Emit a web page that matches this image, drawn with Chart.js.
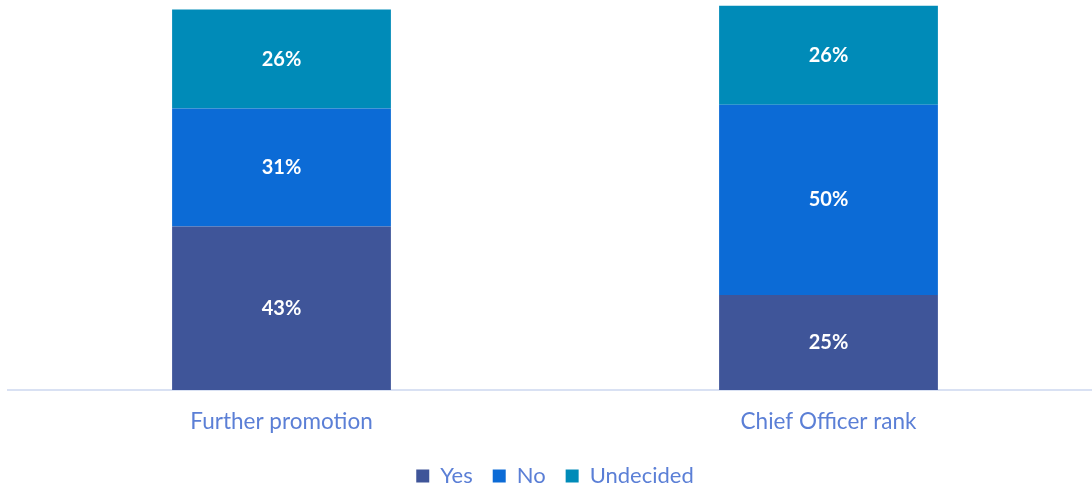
<!DOCTYPE html>
<html>
<head>
<meta charset="utf-8">
<script src="https://cdn.jsdelivr.net/npm/chart.js@4.4.1/dist/chart.umd.min.js"></script>
<style>
  html, body { margin: 0; padding: 0; background: #ffffff; overflow: hidden; }
  #wrap { position: relative; width: 1092px; height: 489px; overflow: hidden; }
  canvas { display: block; }
</style>
</head>
<body>
<div id="wrap"><canvas id="chart" width="1102" height="497"></canvas></div>
<script>
// Survey answers, percent of respondents
const categories = ['Further promotion', 'Chief Officer rank'];
const seriesNames = ['Yes', 'No', 'Undecided'];
const yesValues = [43, 25];
const noValues = [31, 50];
const undecidedValues = [26, 26];

const seriesColors = ['#3F5599', '#0C6BD6', '#008BB8'];
const textColor = '#5B7FD6';
const fontFamily = 'Lato, "Open Sans", sans-serif';

// Writes each segment's percentage in the middle of its bar piece
const segmentLabels = {
  id: 'segmentLabels',
  afterDatasetsDraw(chart) {
    const ctx = chart.ctx;
    ctx.save();
    ctx.fillStyle = '#ffffff';
    ctx.font = 'bold 20px ' + fontFamily;
    ctx.textAlign = 'center';
    ctx.textBaseline = 'middle';
    chart.data.datasets.forEach((ds, i) => {
      const meta = chart.getDatasetMeta(i);
      meta.data.forEach((bar, j) => {
        const p = bar.getProps(['x', 'y', 'base'], true);
        ctx.fillText(ds.data[j] + '%', p.x, (p.y + p.base) / 2);
      });
    });
    ctx.restore();
  }
};

new Chart(document.getElementById('chart'), {
  type: 'bar',
  data: {
    labels: categories,
    datasets: [
      { label: seriesNames[0], data: yesValues, backgroundColor: seriesColors[0] },
      { label: seriesNames[1], data: noValues, backgroundColor: seriesColors[1] },
      { label: seriesNames[2], data: undecidedValues, backgroundColor: seriesColors[2] }
    ]
  },
  options: {
    responsive: false,
    animation: false,
    devicePixelRatio: 1,
    layout: { padding: { left: 8, right: 0, top: 2, bottom: 0 } },
    datasets: { bar: { categoryPercentage: 1, barPercentage: 0.4 } },
    scales: {
      x: {
        stacked: true,
        grid: { display: false, drawTicks: false },
        border: { display: true, color: '#D9E1F3', width: 2 },
        ticks: { color: textColor, font: { family: fontFamily, size: 22.5 }, padding: 18 },
        afterFit(scale) { scale.height -= 8; }
      },
      y: {
        stacked: true,
        display: false,
        min: 0,
        max: 102
      }
    },
    plugins: {
      legend: {
        position: 'bottom',
        labels: {
          color: textColor,
          font: { family: fontFamily, size: 22 },
          boxWidth: 13,
          boxHeight: 13,
          padding: 20
        }
      },
      tooltip: { enabled: false }
    }
  },
  plugins: [segmentLabels]
});
</script>
</body>
</html>
